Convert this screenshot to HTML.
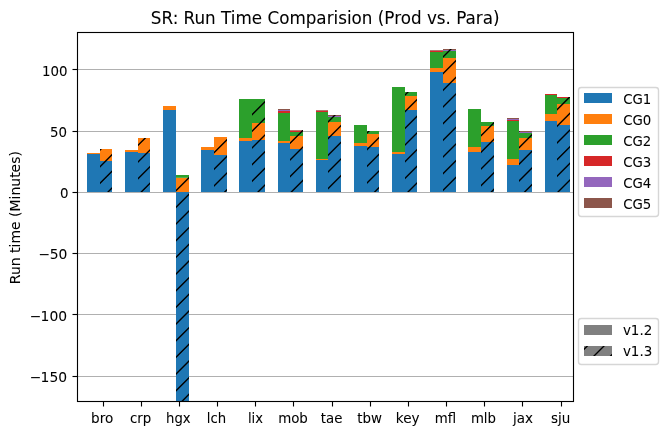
<!DOCTYPE html><html><head><meta charset="utf-8"><title>SR: Run Time Comparision</title>
<style>html,body{margin:0;padding:0;background:#fff}svg{display:block}text{font-family:"DejaVu Sans","Liberation Sans",sans-serif;fill:#000;stroke:#000;stroke-width:0.06px}</style></head><body>
<svg width="668" height="435" viewBox="0 0 668 435">
<rect width="668" height="435" fill="#fff"/>
<g stroke="#b0b0b0" stroke-width="1.11">
<line x1="78" x2="573" y1="69.5" y2="69.5"/>
<line x1="78" x2="573" y1="131.5" y2="131.5"/>
<line x1="78" x2="573" y1="192.5" y2="192.5"/>
<line x1="78" x2="573" y1="253.5" y2="253.5"/>
<line x1="78" x2="573" y1="314.5" y2="314.5"/>
<line x1="78" x2="573" y1="376.5" y2="376.5"/>
</g>
<g>
<rect x="87" y="154" width="13" height="38" fill="#1f77b4"/>
<rect x="87" y="153" width="13" height="1" fill="#ff7f0e"/>
<rect x="100" y="161" width="12" height="31" fill="#1f77b4"/>
<rect x="100" y="149" width="12" height="12" fill="#ff7f0e"/>
<rect x="125" y="152" width="13" height="40" fill="#1f77b4"/>
<rect x="125" y="150" width="13" height="2" fill="#ff7f0e"/>
<rect x="138" y="153" width="12" height="39" fill="#1f77b4"/>
<rect x="138" y="138" width="12" height="15" fill="#ff7f0e"/>
<rect x="163" y="110" width="13" height="82" fill="#1f77b4"/>
<rect x="163" y="106" width="13" height="4" fill="#ff7f0e"/>
<rect x="176" y="192" width="13" height="209.5" fill="#1f77b4"/>
<rect x="176" y="177.8" width="13" height="14.2" fill="#ff7f0e"/>
<rect x="176" y="175" width="13" height="2.8" fill="#2ca02c"/>
<rect x="201" y="150" width="13" height="42" fill="#1f77b4"/>
<rect x="201" y="147" width="13" height="3" fill="#ff7f0e"/>
<rect x="214" y="155" width="13" height="37" fill="#1f77b4"/>
<rect x="214" y="137" width="13" height="18" fill="#ff7f0e"/>
<rect x="239" y="141" width="13" height="51" fill="#1f77b4"/>
<rect x="239" y="138" width="13" height="3" fill="#ff7f0e"/>
<rect x="239" y="99" width="13" height="39" fill="#2ca02c"/>
<rect x="252" y="140" width="13" height="52" fill="#1f77b4"/>
<rect x="252" y="123" width="13" height="17" fill="#ff7f0e"/>
<rect x="252" y="99" width="13" height="24" fill="#2ca02c"/>
<rect x="278" y="143" width="12" height="49" fill="#1f77b4"/>
<rect x="278" y="141" width="12" height="2" fill="#ff7f0e"/>
<rect x="278" y="113" width="12" height="28" fill="#2ca02c"/>
<rect x="278" y="111" width="12" height="2" fill="#d62728"/>
<rect x="278" y="110" width="12" height="1" fill="#9467bd"/>
<rect x="278" y="109" width="12" height="1" fill="#8c564b"/>
<rect x="290" y="149" width="13" height="43" fill="#1f77b4"/>
<rect x="290" y="136" width="13" height="13" fill="#ff7f0e"/>
<rect x="290" y="132" width="13" height="4" fill="#2ca02c"/>
<rect x="290" y="130.5" width="13" height="1.5" fill="#d62728"/>
<rect x="290" y="130" width="13" height="0.5" fill="#8c564b"/>
<rect x="316" y="160" width="12" height="32" fill="#1f77b4"/>
<rect x="316" y="159" width="12" height="1" fill="#ff7f0e"/>
<rect x="316" y="112" width="12" height="47" fill="#2ca02c"/>
<rect x="316" y="110.6" width="12" height="1.4" fill="#d62728"/>
<rect x="316" y="110" width="12" height="0.6" fill="#8c564b"/>
<rect x="328" y="136" width="13" height="56" fill="#1f77b4"/>
<rect x="328" y="122" width="13" height="14" fill="#ff7f0e"/>
<rect x="328" y="117" width="13" height="5" fill="#2ca02c"/>
<rect x="328" y="116" width="13" height="1" fill="#9467bd"/>
<rect x="328" y="115" width="13" height="1" fill="#8c564b"/>
<rect x="354" y="146" width="13" height="46" fill="#1f77b4"/>
<rect x="354" y="143" width="13" height="3" fill="#ff7f0e"/>
<rect x="354" y="125" width="13" height="18" fill="#2ca02c"/>
<rect x="367" y="147" width="12" height="45" fill="#1f77b4"/>
<rect x="367" y="134" width="12" height="13" fill="#ff7f0e"/>
<rect x="367" y="131" width="12" height="3" fill="#2ca02c"/>
<rect x="392" y="154" width="13" height="38" fill="#1f77b4"/>
<rect x="392" y="152" width="13" height="2" fill="#ff7f0e"/>
<rect x="392" y="87" width="13" height="65" fill="#2ca02c"/>
<rect x="405" y="110" width="12" height="82" fill="#1f77b4"/>
<rect x="405" y="96" width="12" height="14" fill="#ff7f0e"/>
<rect x="405" y="92" width="12" height="4" fill="#2ca02c"/>
<rect x="430" y="72" width="13" height="120" fill="#1f77b4"/>
<rect x="430" y="68" width="13" height="4" fill="#ff7f0e"/>
<rect x="430" y="52" width="13" height="16" fill="#2ca02c"/>
<rect x="430" y="50.6" width="13" height="1.4" fill="#d62728"/>
<rect x="430" y="50" width="13" height="0.6" fill="#8c564b"/>
<rect x="443" y="83" width="13" height="109" fill="#1f77b4"/>
<rect x="443" y="58" width="13" height="25" fill="#ff7f0e"/>
<rect x="443" y="51" width="13" height="7" fill="#2ca02c"/>
<rect x="443" y="50" width="13" height="1" fill="#9467bd"/>
<rect x="443" y="49" width="13" height="1" fill="#8c564b"/>
<rect x="468" y="152" width="13" height="40" fill="#1f77b4"/>
<rect x="468" y="147" width="13" height="5" fill="#ff7f0e"/>
<rect x="468" y="109" width="13" height="38" fill="#2ca02c"/>
<rect x="481" y="142" width="13" height="50" fill="#1f77b4"/>
<rect x="481" y="126" width="13" height="16" fill="#ff7f0e"/>
<rect x="481" y="122" width="13" height="4" fill="#2ca02c"/>
<rect x="507" y="165" width="12" height="27" fill="#1f77b4"/>
<rect x="507" y="159" width="12" height="6" fill="#ff7f0e"/>
<rect x="507" y="121" width="12" height="38" fill="#2ca02c"/>
<rect x="507" y="120" width="12" height="1" fill="#d62728"/>
<rect x="507" y="119" width="12" height="1" fill="#9467bd"/>
<rect x="507" y="118" width="12" height="1" fill="#8c564b"/>
<rect x="519" y="150" width="13" height="42" fill="#1f77b4"/>
<rect x="519" y="138" width="13" height="12" fill="#ff7f0e"/>
<rect x="519" y="133" width="13" height="5" fill="#2ca02c"/>
<rect x="519" y="132" width="13" height="1" fill="#9467bd"/>
<rect x="519" y="131" width="13" height="1" fill="#8c564b"/>
<rect x="545" y="121" width="12" height="71" fill="#1f77b4"/>
<rect x="545" y="114" width="12" height="7" fill="#ff7f0e"/>
<rect x="545" y="95" width="12" height="19" fill="#2ca02c"/>
<rect x="545" y="94" width="12" height="1" fill="#d62728"/>
<rect x="557" y="125" width="13" height="67" fill="#1f77b4"/>
<rect x="557" y="104" width="13" height="21" fill="#ff7f0e"/>
<rect x="557" y="98" width="13" height="6" fill="#2ca02c"/>
<rect x="557" y="97" width="13" height="1" fill="#d62728"/>
</g>
<defs><clipPath id="hc">
<rect x="100" y="149" width="12" height="43"/>
<rect x="138" y="138" width="12" height="54"/>
<rect x="176" y="175" width="13" height="226.5"/>
<rect x="214" y="137" width="13" height="55"/>
<rect x="252" y="99" width="13" height="93"/>
<rect x="290" y="130" width="13" height="62"/>
<rect x="328" y="115" width="13" height="77"/>
<rect x="367" y="131" width="12" height="61"/>
<rect x="405" y="92" width="12" height="100"/>
<rect x="443" y="49" width="13" height="143"/>
<rect x="481" y="122" width="13" height="70"/>
<rect x="519" y="131" width="13" height="61"/>
<rect x="557" y="97" width="13" height="95"/>
<rect x="584" y="346" width="28" height="10"/>
</clipPath></defs>
<g fill="#fff" fill-opacity="0.8" stroke="#d6d6d6" stroke-width="1.39"><rect x="578.5" y="87.5" width="80" height="129" rx="2.8"/><rect x="578.5" y="318.5" width="80" height="46" rx="2.8"/></g>
<g>
<rect x="584" y="93" width="28" height="10" fill="#1f77b4"/>
<rect x="584" y="114" width="28" height="10" fill="#ff7f0e"/>
<rect x="584" y="135" width="28" height="10" fill="#2ca02c"/>
<rect x="584" y="156" width="28" height="10" fill="#d62728"/>
<rect x="584" y="177" width="28" height="10" fill="#9467bd"/>
<rect x="584" y="198" width="28" height="10" fill="#8c564b"/>
<rect x="584" y="325" width="28" height="10" fill="#808080"/><rect x="584" y="346" width="28" height="10" fill="#808080"/></g>
<path clip-path="url(#hc)" d="M-440.00 440L5.00 -5M-423.33 440L21.67 -5M-406.67 440L38.33 -5M-390.00 440L55.00 -5M-373.33 440L71.67 -5M-356.67 440L88.33 -5M-340.00 440L105.00 -5M-323.33 440L121.67 -5M-306.67 440L138.33 -5M-290.00 440L155.00 -5M-273.33 440L171.67 -5M-256.67 440L188.33 -5M-240.00 440L205.00 -5M-223.33 440L221.67 -5M-206.67 440L238.33 -5M-190.00 440L255.00 -5M-173.33 440L271.67 -5M-156.67 440L288.33 -5M-140.00 440L305.00 -5M-123.33 440L321.67 -5M-106.67 440L338.33 -5M-90.00 440L355.00 -5M-73.33 440L371.67 -5M-56.67 440L388.33 -5M-40.00 440L405.00 -5M-23.33 440L421.67 -5M-6.67 440L438.33 -5M10.00 440L455.00 -5M26.67 440L471.67 -5M43.33 440L488.33 -5M60.00 440L505.00 -5M76.67 440L521.67 -5M93.33 440L538.33 -5M110.00 440L555.00 -5M126.67 440L571.67 -5M143.33 440L588.33 -5M160.00 440L605.00 -5M176.67 440L621.67 -5M193.33 440L638.33 -5M210.00 440L655.00 -5M226.67 440L671.67 -5M243.33 440L688.33 -5M260.00 440L705.00 -5M276.67 440L721.67 -5M293.33 440L738.33 -5M310.00 440L755.00 -5M326.67 440L771.67 -5M343.33 440L788.33 -5M360.00 440L805.00 -5M376.67 440L821.67 -5M393.33 440L838.33 -5M410.00 440L855.00 -5M426.67 440L871.67 -5M443.33 440L888.33 -5M460.00 440L905.00 -5M476.67 440L921.67 -5M493.33 440L938.33 -5M510.00 440L955.00 -5M526.67 440L971.67 -5M543.33 440L988.33 -5M560.00 440L1005.00 -5M576.67 440L1021.67 -5M593.33 440L1038.33 -5M610.00 440L1055.00 -5M626.67 440L1071.67 -5M643.33 440L1088.33 -5M660.00 440L1105.00 -5M676.67 440L1121.67 -5M693.33 440L1138.33 -5M710.00 440L1155.00 -5" stroke="#000" stroke-width="1.39" fill="none"/>
<rect x="77.5" y="32.5" width="496" height="369" stroke="#000" stroke-width="1.11" fill="none"/>
<g fill="#000">
<rect x="102.945" y="402" width="1.11" height="4.5"/>
<rect x="140.945" y="402" width="1.11" height="4.5"/>
<rect x="178.945" y="402" width="1.11" height="4.5"/>
<rect x="216.945" y="402" width="1.11" height="4.5"/>
<rect x="254.945" y="402" width="1.11" height="4.5"/>
<rect x="292.945" y="402" width="1.11" height="4.5"/>
<rect x="331.945" y="402" width="1.11" height="4.5"/>
<rect x="369.945" y="402" width="1.11" height="4.5"/>
<rect x="407.945" y="402" width="1.11" height="4.5"/>
<rect x="445.945" y="402" width="1.11" height="4.5"/>
<rect x="483.945" y="402" width="1.11" height="4.5"/>
<rect x="521.945" y="402" width="1.11" height="4.5"/>
<rect x="560.945" y="402" width="1.11" height="4.5"/>
<rect x="72.5" y="68.945" width="4.5" height="1.11"/>
<rect x="72.5" y="130.945" width="4.5" height="1.11"/>
<rect x="72.5" y="191.945" width="4.5" height="1.11"/>
<rect x="72.5" y="252.945" width="4.5" height="1.11"/>
<rect x="72.5" y="313.945" width="4.5" height="1.11"/>
<rect x="72.5" y="375.945" width="4.5" height="1.11"/>
</g>
<g font-size="13.889px">
<text transform="translate(102.19 422.70) scale(0.9762 1.0000)" text-anchor="middle">bro</text>
<text transform="translate(140.55 422.70) scale(0.9594 1.0000)" text-anchor="middle">crp</text>
<text transform="translate(178.37 422.70) scale(0.9512 1.0000)" text-anchor="middle">hgx</text>
<text transform="translate(216.55 422.70) scale(0.9557 1.0000)" text-anchor="middle">lch</text>
<text transform="translate(255.45 422.70) scale(0.9435 1.0000)" text-anchor="middle">lix</text>
<text transform="translate(293.00 422.70) scale(0.9650 1.0000)" text-anchor="middle">mob</text>
<text transform="translate(331.55 422.70) scale(0.9600 1.0000)" text-anchor="middle">tae</text>
<text transform="translate(369.55 422.70) scale(0.9649 1.0000)" text-anchor="middle">tbw</text>
<text transform="translate(407.73 422.70) scale(0.9778 1.0000)" text-anchor="middle">key</text>
<text transform="translate(445.55 422.70) scale(0.9596 1.0000)" text-anchor="middle">mfl</text>
<text transform="translate(483.46 422.70) scale(0.9588 1.0000)" text-anchor="middle">mlb</text>
<text transform="translate(522.90 422.70) scale(0.9709 1.0000)" text-anchor="middle">jax</text>
<text transform="translate(560.70 422.70) scale(0.9698 1.0000)" text-anchor="middle">sju</text>
<text transform="translate(67.40 76.00) scale(0.9630 1.0000)" text-anchor="end">100</text>
<text transform="translate(66.90 137.00) scale(0.9630 1.0000)" text-anchor="end">50</text>
<text transform="translate(68.60 198.00) scale(0.9630 1.0000)" text-anchor="end">0</text>
<text x="38.40" y="259">−<tspan dx="-0.31">50</tspan></text>
<text x="29.75" y="321">−<tspan dx="-0.80">100</tspan></text>
<text x="29.75" y="382">−<tspan dx="-0.80">150</tspan></text>
<text transform="translate(623.20 104.00) scale(0.9600 1.0000)">CG1</text>
<text transform="translate(623.20 125.00) scale(0.9600 1.0000)">CG0</text>
<text transform="translate(623.20 146.00) scale(0.9600 1.0000)">CG2</text>
<text transform="translate(623.20 167.00) scale(0.9600 1.0000)">CG3</text>
<text transform="translate(623.20 188.00) scale(0.9600 1.0000)">CG4</text>
<text transform="translate(623.20 209.00) scale(0.9600 1.0000)">CG5</text>
<text transform="translate(622.90 335.00) scale(0.9700 1.0000)">v1.2</text>
<text transform="translate(622.90 356.00) scale(0.9700 1.0000)">v1.3</text>
<text transform="translate(19.6 217.6) rotate(-90) scale(1.006 1)" text-anchor="middle">Run time (Minutes)</text>
</g>
<text transform="translate(325.20 24.00) scale(1.0061 1.0600)" text-anchor="middle" font-size="16.667px">SR: Run Time Comparision (Prod vs. Para)</text>
</svg></body></html>
